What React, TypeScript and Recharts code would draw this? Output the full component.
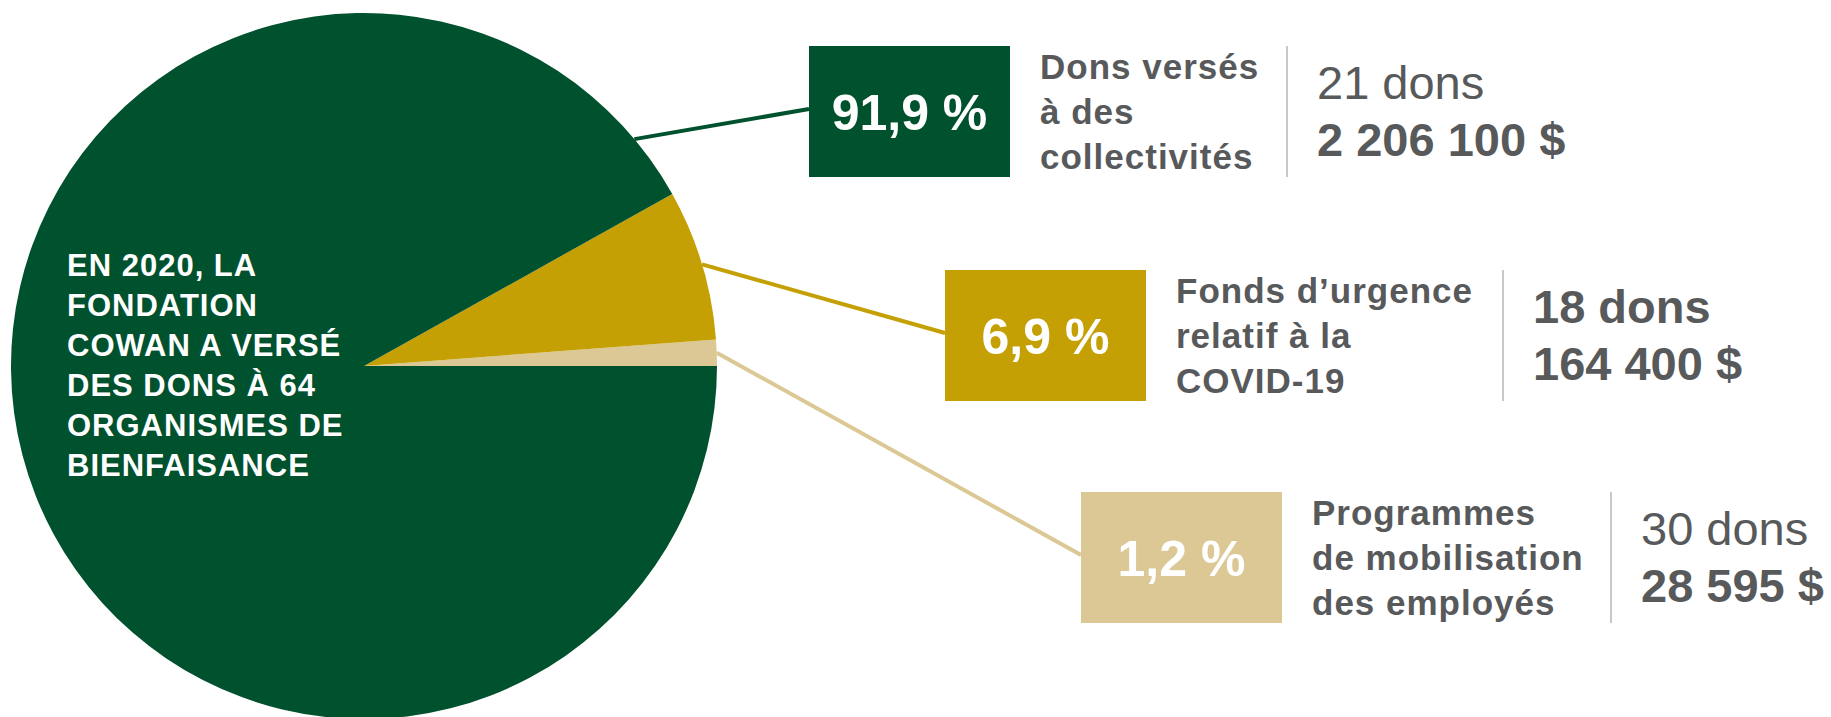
import React from 'react';
import { PieChart, Pie, Cell } from 'recharts';

// ---- data ----
const categories = [
  'Programmes de mobilisation des employés',
  'Fonds d’urgence relatif à la COVID-19',
  'Dons versés à des collectivités',
];
const shares = [1.2, 6.9, 91.9];
const percentLabels = ['1,2 %', '6,9 %', '91,9 %'];
const categoryLines = [
  ['Programmes', 'de mobilisation', 'des employés'],
  ['Fonds d’urgence', 'relatif à la', 'COVID-19'],
  ['Dons versés', 'à des', 'collectivités'],
];
const giftCounts = ['30 dons', '18 dons', '21 dons'];
const giftAmounts = ['28 595 $', '164 400 $', '2 206 100 $'];
const centerLines = [
  'EN 2020, LA',
  'FONDATION',
  'COWAN A VERSÉ',
  'DES DONS À 64',
  'ORGANISMES DE',
  'BIENFAISANCE',
];

// ---- styles / layout (kept apart from data) ----
const COLORS = ['#DBC894', '#C4A004', '#00512E'];
const TEXT_GRAY = '#58595B';
const FONT = '"Liberation Sans", Arial, sans-serif';
const BOX_W = 201;
const BOX_H = 131;
const layout = [
  { x: 1081, y: 492, sep: 1611, anchorAngle: null as number | null, countBold: false },
  { x: 945, y: 270, sep: 1503, anchorAngle: null as number | null, countBold: true },
  { x: 809, y: 46, sep: 1287, anchorAngle: 40 as number | null, countBold: false },
];

const chartData = categories.map((name, i) => ({ name, value: shares[i] }));

const renderLabel = (props: any) => {
  const { cx, cy, midAngle, outerRadius, index } = props;
  const L = layout[index];
  const angDeg = L.anchorAngle != null ? L.anchorAngle : midAngle;
  const a = (angDeg * Math.PI) / 180;
  const sx = cx + outerRadius * Math.cos(a);
  const sy = cy - outerRadius * Math.sin(a);
  const ex = L.x;
  const ey = L.y + 63;
  const color = COLORS[index];
  return (
    <g key={`lbl-${index}`}>
      <line x1={sx} y1={sy} x2={ex} y2={ey} stroke={color} strokeWidth={4} />
      <rect x={L.x} y={L.y} width={BOX_W} height={BOX_H} fill={color} />
      <text
        x={L.x + BOX_W / 2}
        y={L.y + 84}
        textAnchor="middle"
        fill="#FFFFFF"
        fontFamily={FONT}
        fontWeight="bold"
        fontSize={50}
      >
        {percentLabels[index]}
      </text>
      {categoryLines[index].map((ln, j) => (
        <text
          key={j}
          x={L.x + 231}
          y={L.y + 33 + j * 45}
          fill={TEXT_GRAY}
          fontFamily={FONT}
          fontWeight="bold"
          fontSize={35}
          letterSpacing={1}
        >
          {ln}
        </text>
      ))}
      <line x1={L.sep} y1={L.y} x2={L.sep} y2={L.y + BOX_H} stroke="#C8C8C8" strokeWidth={2} />
      <text
        x={L.sep + 30}
        y={L.y + 53}
        fill={TEXT_GRAY}
        fontFamily={FONT}
        fontWeight={L.countBold ? 'bold' : 'normal'}
        fontSize={47}
      >
        {giftCounts[index]}
      </text>
      <text
        x={L.sep + 30}
        y={L.y + 110}
        fill={TEXT_GRAY}
        fontFamily={FONT}
        fontWeight="bold"
        fontSize={47}
      >
        {giftAmounts[index]}
      </text>
      {index === 0 &&
        centerLines.map((ln, j) => (
          <text
            key={`c-${j}`}
            x={67}
            y={276 + j * 40}
            fill="#FFFFFF"
            fontFamily={FONT}
            fontWeight="bold"
            fontSize={31}
            letterSpacing={1}
          >
            {ln}
          </text>
        ))}
    </g>
  );
};

export default function App() {
  return (
    <div style={{ position: 'absolute', left: 0, top: 0, width: 1831, height: 717, background: '#FFFFFF' }}>
      <PieChart width={1831} height={717} margin={{ top: 0, right: 0, bottom: 0, left: 0 }}>
        <Pie
          data={chartData}
          dataKey="value"
          nameKey="name"
          cx={364}
          cy={366}
          outerRadius={353}
          startAngle={0}
          endAngle={360}
          stroke="none"
          isAnimationActive={false}
          labelLine={false}
          label={renderLabel}
        >
          {chartData.map((d, i) => (
            <Cell key={d.name} fill={COLORS[i]} />
          ))}
        </Pie>
      </PieChart>
    </div>
  );
}
